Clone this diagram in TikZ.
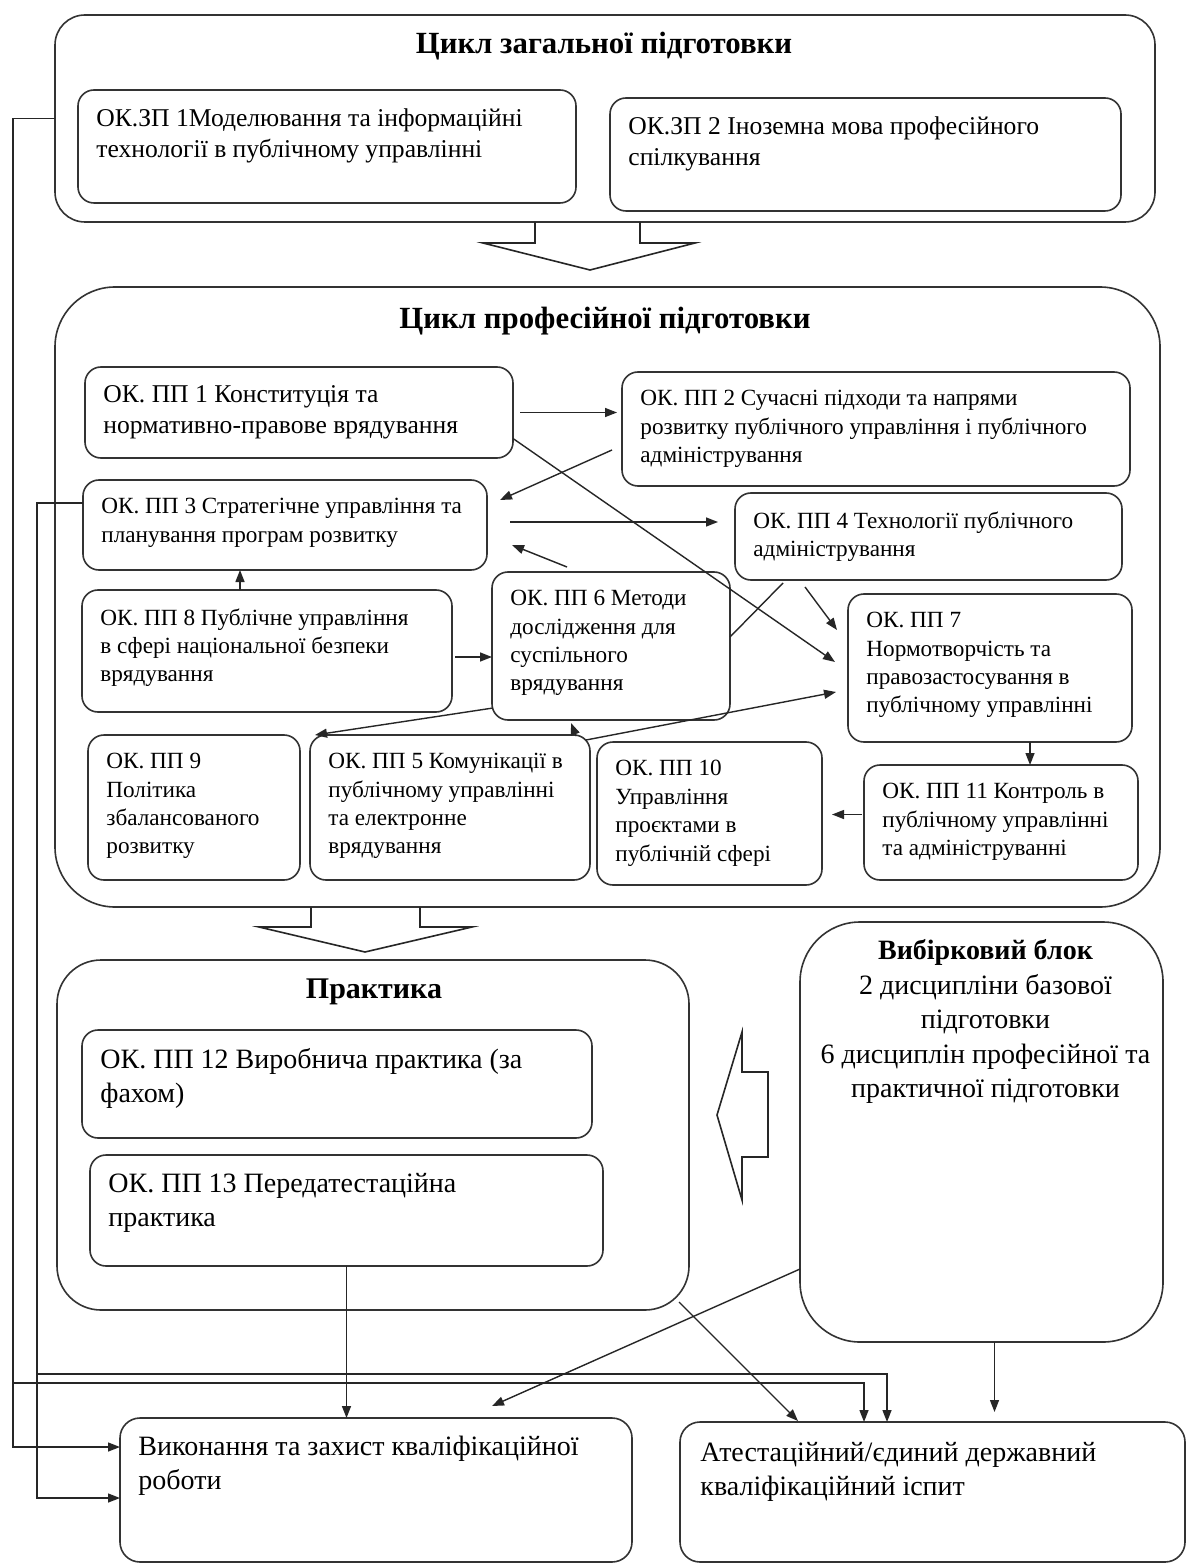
\documentclass[tikz,border=0pt]{standalone}
\usepackage{fontspec}
\setmainfont{Liberation Serif}
\usetikzlibrary{arrows.meta,calc}
\newcommand\ubox[8]{%
  \node[#6, minimum width={(#4-#2)*0.5pt}, minimum height={(#5-#3)*0.5pt}] (#1) at ({(#2+#4)/2},{(#3+#5)/2}) {};
  \node[#7, anchor=north west] (#1-t) at ($(#1.north west)+(18,18)$) {#8};
}
\begin{document}
\begin{tikzpicture}[x=0.5pt,y=-0.5pt,
  bx/.style={draw=black!80, line width=0.8pt, rounded corners=8pt, inner sep=0pt, outer sep=0pt},
  bxbig/.style={bx, rounded corners=30pt},
  bxtop/.style={bx, rounded corners=15pt},
  bxprak/.style={bx, rounded corners=22pt},
  bxlow/.style={bx, rounded corners=10pt},
  tsmall/.style={font=\fontsize{11.6}{14.2}\selectfont, align=left, inner sep=0pt},
  tpp1/.style={font=\fontsize{12.8}{15.5}\selectfont, align=left, inner sep=0pt},
  tmid/.style={font=\fontsize{12.8}{15.8}\selectfont, align=left, inner sep=0pt},
  tlow/.style={font=\fontsize{14}{16.8}\selectfont, align=left, inner sep=0pt},
  ttitle/.style={font=\fontsize{15.4}{18}\selectfont\bfseries, inner sep=0pt},
  ln/.style={draw=black!85, line width=0.7pt},
  arr/.style={ln, -{Triangle[length=6pt,width=4.5pt]}},
  blk/.style={draw=black!85, line width=0.8pt, line join=miter}
]
\useasboundingbox (0,0) rectangle (1187,1566);
\fill[white] (0,0) rectangle (1187,1566);

% ---- general training cycle
\ubox{top}{55}{15}{1155}{222}{bxtop}{tmid}{}
\node[ttitle] (toptitle) at (604,46) {Цикл загальної підготовки};
\ubox{zp1}{78}{90}{576}{203}{bx}{tmid}{ОК.ЗП 1Моделювання та інформаційні\\технології в публічному управлінні}
\ubox{zp2}{610}{98}{1121}{211}{bx}{tmid}{ОК.ЗП 2 Іноземна мова професійного\\спілкування}

% block arrow 1
\draw[blk] (535,222) -- (535,243) -- (483,243) -- (590,270) -- (695,243) -- (640,243) -- (640,222);

% ---- professional cycle
\ubox{prof}{55}{287}{1160}{907}{bxbig}{tsmall}{}
\node[ttitle] (proftitle) at (605,321) {Цикл професійної підготовки};
\ubox{pp1}{85}{367}{513}{458}{bx}{tpp1}{ОК. ПП 1 Конституція та\\нормативно-правове врядування}
\ubox{pp2}{622}{372}{1130}{486}{bx}{tsmall}{ОК. ПП 2 Сучасні підходи та напрями\\розвитку публічного управління і публічного\\адміністрування}
\ubox{pp3}{83}{480}{487}{570}{bx}{tsmall}{ОК. ПП 3 Стратегічне управління та\\планування програм розвитку}
\ubox{pp4}{735}{493}{1122}{580}{bx}{tsmall}{ОК. ПП 4 Технології публічного\\адміністрування}
\ubox{pp8}{82}{590}{452}{712}{bx}{tsmall}{ОК. ПП 8 Публічне управління\\в сфері національної безпеки\\врядування}
\ubox{pp6}{492}{572}{730}{720}{bx}{tsmall}{ОК. ПП 6 Методи\\дослідження для\\суспільного\\врядування}
\ubox{pp7}{848}{594}{1132}{742}{bx}{tsmall}{ОК. ПП 7\\Нормотворчість та\\правозастосування в\\публічному управлінні}
\ubox{pp9}{88}{735}{300}{880}{bx}{tsmall}{ОК. ПП 9\\Політика\\збалансованого\\розвитку}
\ubox{pp5}{310}{735}{590}{880}{bx}{tsmall}{ОК. ПП 5 Комунікації в\\публічному управлінні\\та електронне\\врядування}
\ubox{pp10}{597}{742}{822}{885}{bx}{tsmall}{ОК. ПП 10\\Управління\\проєктами в\\публічній сфері}
\ubox{pp11}{864}{765}{1138}{880}{bx}{tsmall}{ОК. ПП 11 Контроль в\\публічному управлінні\\та адмініструванні}

% connectors inside professional cycle
\draw[arr,shorten <=3.5pt,shorten >=2.5pt] (pp1.east) -- (pp1.east -| pp2.west);
\draw[arr] ($(pp2.west)+(-10,21)$) -- ($(pp3.east)+(13,-25)$);
\draw[arr] ($(pp1.east)+(0,26)$) -- ($(pp7.west)+(-13,-6)$);
\draw[arr] ($(pp3.east)+(23,-3)$) -- ($(pp4.west)+(-17,-14.5)$);
\draw[arr] ($(pp6.north west)+(75,-5)$) -- ($(pp3.east)+(25,20)$);
\draw[arr] ($(pp8.north)+(-27,0)$) -- ($(pp3.south)+(-45,0)$);
\draw[arr,shorten <=1.5pt] ($(pp8.east)+(0,6)$) -- ($(pp6.west)+(0,11)$);
\draw[ln] ($(pp4.south west)+(48,3)$) -- ($(pp6.east)+(0,-9)$);
\draw[arr] ($(pp4.south west)+(70,7)$) -- ($(pp7.west)+(-11,-38)$);
\draw[arr] ($(pp6.south west)+(1,-12)$) -- ($(pp9.north east)+(15,0)$);
\draw[arr] ($(pp5.north east)+(-14,1)$) -- ($(pp6.south)+(-40,3)$);
\draw[arr] ($(pp5.north east)+(-4,5)$) -- ($(pp7.west)+(-12,24)$);
\draw[arr] ($(pp7.south)+(40,0)$) -- ($(pp11.north)+(29,0)$);
\draw[arr] ($(pp11.west)+(-2,-8)$) -- ($(pp10.east)+(10,1)$);

% block arrow 2
\draw[blk] (311,907) -- (311,927) -- (259,927) -- (365,952) -- (472,927) -- (420,927) -- (420,907);

% ---- practice
\ubox{prak}{57}{960}{689}{1310}{bxprak}{tlow}{}
\node[ttitle,font=\fontsize{15}{18}\selectfont\bfseries] (praktitle) at (374,992) {Практика};
\ubox{pp12}{82}{1030}{592}{1138}{bx}{tlow}{ОК. ПП 12 Виробнича практика (за\\фахом)}
\ubox{pp13}{90}{1155}{603}{1266}{bx}{tlow}{ОК. ПП 13 Передатестаційна\\практика}

% ---- elective block
\ubox{vyb}{800}{922}{1163}{1342}{bxbig}{tlow}{}
\node[tlow, font=\fontsize{14}{17.3}\selectfont, align=center, anchor=north] (vybt) at ($(vyb.north)+(4,17)$) {\textbf{Вибірковий блок}\\2 дисципліни базової\\підготовки\\6 дисциплін професійної та\\практичної підготовки};

% block arrow 3 (left)
\draw[blk] (742,1032) -- (742,1072) -- (768,1072) -- (768,1157) -- (742,1157) -- (742,1200) -- (717,1115) -- cycle;

% ---- final boxes
\ubox{vyk}{120}{1418}{632}{1562}{bxlow}{tlow}{Виконання та захист кваліфікаційної\\роботи}
\ubox{att}{680}{1422}{1185}{1562}{bxlow}{tlow}{}
\node[tlow, anchor=north west] (att-t) at ($(att.north west)+(20,20)$) {Атестаційний/єдиний державний\\кваліфікаційний іспит};

% bottom connectors
\draw[arr] (pp13.south) -- (pp13.south |- vyk.north);
\draw[arr] ($(vyb.west)+(0,137)$) -- ($(vyk.north)+(116,-12)$);
\draw[arr] ($(prak.south east)+(-10,-8)$) -- ($(att.north west)+(118,-1)$);
\path ($(vyb.south)+(13,0)$) coordinate (v1);
\draw[arr,shorten >=5pt] (v1) -- (v1 |- att.north);

% outer feedback lines
\coordinate (xo) at (13,0);
\coordinate (xi) at (37,0);
\coordinate (ha) at (0,1374);
\coordinate (hb) at (0,1383);
\coordinate (xa) at (887,0);
\coordinate (xb) at (864,0);
\path ($(vyk.west)+(0,-43)$) coordinate (ya);
\path ($(vyk.west)+(0,8)$) coordinate (yb);
\path ($(pp3.west)+(0,-22)$) coordinate (p3l);
\draw[arr] (top.west) -- (top.west -| xo) -- (xo |- ya) -- (ya);
\draw[arr] (xo |- hb) -- (xb |- hb) -- (xb |- att.north);
\draw[arr] (p3l) -- (p3l -| xi) -- (xi |- yb) -- (yb);
\draw[arr] (xi |- ha) -- (xa |- ha) -- (xa |- att.north);
\end{tikzpicture}
\end{document}
